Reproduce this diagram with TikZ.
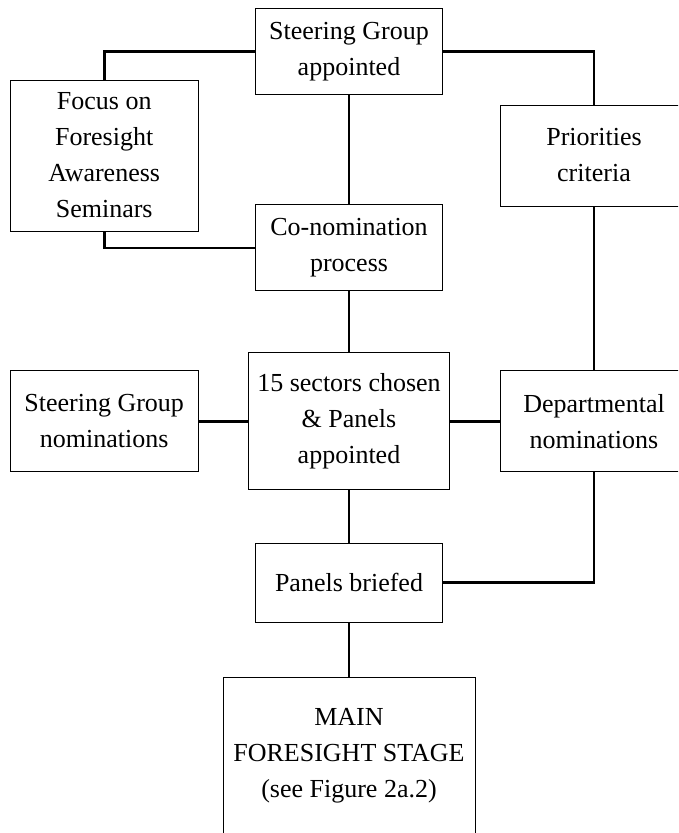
\documentclass[tikz,border=0pt]{standalone}
\usepackage{fontspec}
\setmainfont{Liberation Serif}
\tikzset{
  caixa/.style={rectangle,draw=black,line width=0.9pt,align=center,
    inner sep=0pt,font=\fontsize{26}{36}\selectfont},
  ligacao/.style={line width=2.6pt,black}
}

\begin{document}
\begin{tikzpicture}[x=1pt,y=-1pt]
\useasboundingbox (0,0) rectangle (678,833);
\clip (0,0) rectangle (678,833);
% caixas
\node[caixa,minimum width=187pt,minimum height=86pt] (grupo) at (349,51.5) {Steering Group\\appointed};
\node[caixa,minimum width=188pt,minimum height=151pt] (seminarios) at (104.2,155.5) {Focus on\\Foresight\\Awareness\\Seminars};
\node[caixa,minimum width=188pt,minimum height=101pt] (prioridades) at (594,155.5) {Priorities\\criteria};
\node[caixa,minimum width=187pt,minimum height=86pt] (conomeacao) at (349,247.8) {Co-nomination\\process};
\node[caixa,minimum width=188pt,minimum height=101pt] (nomgrupo) at (104.2,421.3) {Steering Group\\nominations};
\node[caixa,minimum width=201pt,minimum height=137pt] (setores) at (349,421.3) {15 sectors chosen\\\& Panels\\appointed};
\node[caixa,minimum width=188pt,minimum height=101pt] (nomdep) at (594,421.3) {Departmental\\nominations};
\node[caixa,minimum width=187pt,minimum height=79pt] (painel) at (349,582.7) {Panels briefed};
\node[caixa,minimum width=252pt,minimum height=158pt] (principal) at (349,756) {MAIN\\FORESIGHT STAGE\\(see Figure 2a.2)};
% ligacoes
\draw[ligacao] (grupo.west) -| (seminarios.north);
\draw[ligacao] (grupo.east) -| (prioridades.north);
\draw[ligacao] (grupo) -- (conomeacao);
\draw[ligacao] (seminarios.south) |- (conomeacao.west);
\draw[ligacao] (prioridades) -- (nomdep);
\draw[ligacao] (conomeacao) -- (setores);
\draw[ligacao] (nomgrupo) -- (setores);
\draw[ligacao] (setores) -- (nomdep);
\draw[ligacao] (setores) -- (painel);
\draw[ligacao] (nomdep.south) |- (painel.east);
\draw[ligacao] (painel) -- (principal);
\end{tikzpicture}
\end{document}
